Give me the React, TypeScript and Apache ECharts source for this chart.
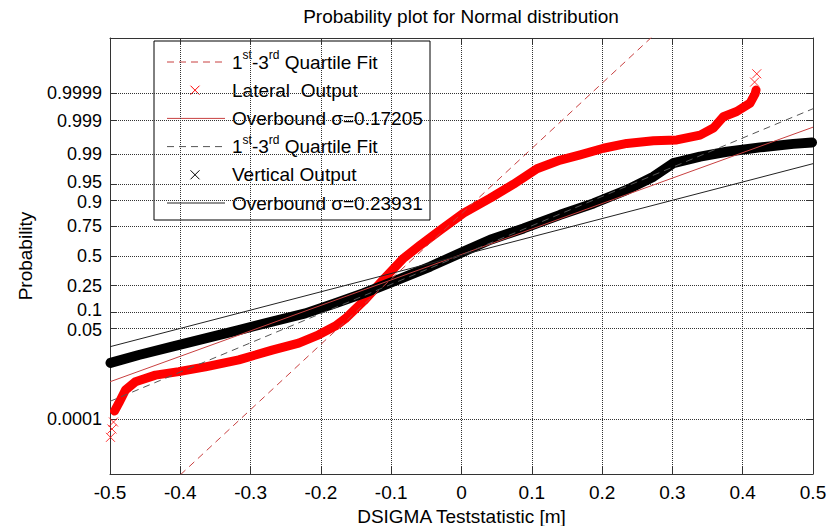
import React, { useEffect, useRef } from 'react';
import * as echarts from 'echarts';

// ---- Data (x in metres, y as standard-normal quantile of the plotting probability) ----
const probTickLabels = ['0.0001', '0.05', '0.1', '0.25', '0.5', '0.75', '0.9', '0.95', '0.99', '0.999', '0.9999'];
const xTickStep = 0.1;
const xMin = -0.5;
const xMax = 0.5;
const yLimZ = 4.977;

// Lateral output (red): dense band of markers
const lateralBand: [number, number][] = [
  [-0.4936, -3.54], [-0.4875, -3.36], [-0.478, -3.06], [-0.4638, -2.87], [-0.4353, -2.72],
  [-0.4022, -2.64], [-0.3643, -2.53], [-0.3169, -2.37], [-0.2694, -2.15], [-0.2316, -1.99],
  [-0.2032, -1.8], [-0.1795, -1.6], [-0.1653, -1.43], [-0.1392, -1.03], [-0.1108, -0.53],
  [-0.0824, -0.05], [-0.0586, 0.25], [-0.0302, 0.59], [0.0029, 0.98], [0.0409, 1.32],
  [0.074, 1.64], [0.1073, 1.99], [0.1404, 2.19], [0.1688, 2.31], [0.2019, 2.46],
  [0.2352, 2.57], [0.273, 2.63], [0.3063, 2.65], [0.3394, 2.76], [0.3583, 2.92],
  [0.3725, 3.18], [0.3915, 3.3], [0.4105, 3.49], [0.4176, 3.7], [0.419, 3.79],
];
// Lateral output (red): isolated tail markers
const lateralTails: [number, number][] = [
  [-0.4993, -4.14], [-0.4972, -3.95], [-0.495, -3.79], [0.4169, 3.97], [0.42, 4.16],
];
// Vertical output (black): dense band of markers
const verticalBand: [number, number][] = [
  [-0.4993, -2.44], [-0.4591, -2.26], [-0.4116, -2.07], [-0.3643, -1.88], [-0.3169, -1.69],
  [-0.2694, -1.5], [-0.2221, -1.31], [-0.1795, -1.08], [-0.1392, -0.85], [-0.0917, -0.55],
  [-0.0444, -0.24], [0.0029, 0.1], [0.0409, 0.37], [0.0882, 0.63], [0.1404, 0.94],
  [0.1877, 1.2], [0.2352, 1.51], [0.273, 1.81], [0.3014, 2.12], [0.3394, 2.27],
  [0.3773, 2.38], [0.4247, 2.48], [0.472, 2.56], [0.4986, 2.59],
];
// Fitted normal lines: [mean, sigma]
const lateralQuartileFit = [-0.0647, 0.0671];
const lateralOverbound = [-0.006, 0.17205];
const verticalQuartileFit = [-0.0033, 0.1497];
const verticalOverbound = [-0.0044, 0.23931];

const legendLabels = [
  '1{sup|st}-3{sup|rd} Quartile Fit',
  'Lateral  Output',
  'Overbound σ=0.17205',
  '1{sup|st}-3{sup|rd} Quartile Fit',
  'Vertical Output',
  'Overbound σ=0.23931',
];

// ---- helpers ----
function normInv(p: number): number {
  const a = [-3.969683028665376e1, 2.209460984245205e2, -2.759285104469687e2, 1.38357751867269e2, -3.066479806614716e1, 2.506628277459239];
  const b = [-5.447609879822406e1, 1.615858368580409e2, -1.556989798598866e2, 6.680131188771972e1, -1.328068155288572e1];
  const c = [-7.784894002430293e-3, -3.223964580411365e-1, -2.400758277161838, -2.549732539343734, 4.374664141464968, 2.938163982698783];
  const d = [7.784695709041462e-3, 3.224671290700398e-1, 2.445134137142996, 3.754408661907416];
  const plow = 0.02425;
  const phigh = 1 - plow;
  if (p < plow) {
    const q = Math.sqrt(-2 * Math.log(p));
    return (((((c[0] * q + c[1]) * q + c[2]) * q + c[3]) * q + c[4]) * q + c[5]) / ((((d[0] * q + d[1]) * q + d[2]) * q + d[3]) * q + 1);
  }
  if (p > phigh) {
    const q = Math.sqrt(-2 * Math.log(1 - p));
    return -(((((c[0] * q + c[1]) * q + c[2]) * q + c[3]) * q + c[4]) * q + c[5]) / ((((d[0] * q + d[1]) * q + d[2]) * q + d[3]) * q + 1);
  }
  const q = p - 0.5;
  const r = q * q;
  return (((((a[0] * r + a[1]) * r + a[2]) * r + a[3]) * r + a[4]) * r + a[5]) * q / (((((b[0] * r + b[1]) * r + b[2]) * r + b[3]) * r + b[4]) * r + 1);
}

const yTickZ = probTickLabels.map((s) => normInv(parseFloat(s)));
const fitLine = (fit: number[]) => [xMin, xMax].map((x) => [x, (x - fit[0]) / fit[1]]);

const FONT = "'Liberation Sans', Arial, Helvetica, sans-serif";
const RED = '#ff0000';
const RED_FIT = '#c84040';
const BLACK_FIT = '#222222';
const BLACK_DASH = '#555555';
const AXIS = '#333333';
const X_SYMBOL = 'path://M0,0L10,10M10,0L0,10';
// labels of closely spaced ticks get nudged apart a little
const nudgeUp = ['0.95', '0.1'];
const nudgeDown = ['0.9', '0.05'];

function buildLegend() {
  const left = 154, top = 41, w = 276, h = 179;
  const rowY = [62, 90.2, 118.4, 146.6, 174.8, 203];
  const kinds = [
    { k: 'dash', c: RED_FIT }, { k: 'x', c: RED }, { k: 'line', c: RED_FIT },
    { k: 'dash', c: BLACK_DASH }, { k: 'x', c: '#000' }, { k: 'line', c: BLACK_FIT },
  ];
  const children: any[] = [
    { type: 'rect', shape: { x: left, y: top, width: w, height: h }, style: { fill: '#fff', stroke: '#000', lineWidth: 1 } },
  ];
  kinds.forEach((it, i) => {
    const y = rowY[i];
    if (it.k === 'x') {
      children.push({ type: 'line', shape: { x1: 190.5, y1: y - 4.5, x2: 199.5, y2: y + 4.5 }, style: { stroke: it.c, lineWidth: 1 } });
      children.push({ type: 'line', shape: { x1: 199.5, y1: y - 4.5, x2: 190.5, y2: y + 4.5 }, style: { stroke: it.c, lineWidth: 1 } });
    } else {
      children.push({
        type: 'line', shape: { x1: 167, y1: y, x2: 225, y2: y },
        style: { stroke: it.c, lineWidth: 1, lineDash: it.k === 'dash' ? [7, 5] : null },
      });
    }
    children.push({
      type: 'text', x: 232, y,
      style: {
        text: legendLabels[i], fill: '#000', fontFamily: FONT, fontSize: 19, verticalAlign: 'middle', lineHeight: 26,
        rich: { sup: { fontFamily: FONT, fontSize: 12, verticalAlign: 'top', lineHeight: 14, fill: '#000' } },
      },
    });
  });
  return [{ type: 'group', z: 100, children }];
}

export default function App() {
  const ref = useRef<HTMLDivElement>(null);
  useEffect(() => {
    if (!ref.current) return;
    const chart = echarts.init(ref.current, undefined, { renderer: 'svg' });
    const gridLine = { show: true, lineStyle: { color: '#333', type: 'dotted', width: 1 } };
    const tickStyle = { inside: true, length: 7, lineStyle: { color: AXIS } };
    const labelStyle = { fontFamily: FONT, fontSize: 19, color: '#000' };
    const yLabelFont = { fontFamily: FONT, fontSize: 18, color: '#000' };
    const axisLine = { show: true, onZero: false, lineStyle: { color: AXIS } };
    const option: any = {
      animation: false,
      backgroundColor: '#ffffff',
      title: {
        text: 'Probability plot for Normal distribution',
        left: 456, top: 2, textAlign: 'center',
        textStyle: { fontFamily: FONT, fontSize: 19, fontWeight: 'normal', color: '#000' },
      },
      grid: { left: 110, top: 38, right: 24, bottom: 52, outerBoundsMode: 'none' },
      xAxis: [
        {
          type: 'value', min: xMin, max: xMax, interval: xTickStep, position: 'bottom',
          name: 'DSIGMA Teststatistic [m]', nameLocation: 'middle', nameGap: 32,
          nameTextStyle: labelStyle,
          axisLine,
          axisTick: tickStyle,
          axisLabel: { ...labelStyle, margin: 9, formatter: (v: number) => String(Number(v.toFixed(1))) },
          splitLine: gridLine,
        },
        {
          type: 'value', min: xMin, max: xMax, interval: xTickStep, position: 'top',
          axisLine, axisTick: tickStyle,
          axisLabel: { show: false }, splitLine: { show: false },
        },
      ],
      yAxis: [
        {
          type: 'value', min: -yLimZ, max: yLimZ, position: 'left',
          name: 'Probability', nameLocation: 'middle', nameGap: 75, nameRotate: 90,
          nameTextStyle: labelStyle,
          axisLine,
          axisTick: { ...tickStyle, customValues: yTickZ },
          axisLabel: {
            ...yLabelFont, margin: 8, customValues: yTickZ,
            rich: {
              up: { ...yLabelFont, padding: [0, 0, 4, 0] },
              dn: { ...yLabelFont, padding: [4, 0, 0, 0] },
            },
            formatter: (v: number) => {
              let best = 0;
              yTickZ.forEach((z, i) => { if (Math.abs(z - v) < Math.abs(yTickZ[best] - v)) best = i; });
              const s = probTickLabels[best];
              if (nudgeUp.includes(s)) return `{up|${s}}`;
              if (nudgeDown.includes(s)) return `{dn|${s}}`;
              return s;
            },
          },
          splitLine: gridLine,
        },
        {
          type: 'value', min: -yLimZ, max: yLimZ, position: 'right',
          axisLine,
          axisTick: { ...tickStyle, customValues: yTickZ },
          axisLabel: { show: false, customValues: yTickZ }, splitLine: { show: false },
        },
      ],
      series: [
        {
          name: 'Lateral  Output', type: 'line', data: lateralBand, symbol: 'none', z: 3, silent: true,
          lineStyle: { color: RED, width: 9, join: 'round', cap: 'round' },
        },
        {
          name: 'Lateral  Output tails', type: 'scatter', data: lateralTails, symbol: X_SYMBOL, symbolSize: 9, z: 3, silent: true,
          itemStyle: { color: 'rgba(0,0,0,0)', borderColor: RED, borderWidth: 1 },
        },
        {
          name: 'Vertical Output', type: 'line', data: verticalBand, symbol: 'none', z: 3, silent: true,
          lineStyle: { color: '#000', width: 10, join: 'round', cap: 'round' },
        },
        {
          name: 'Lateral 1st-3rd Quartile Fit', type: 'line', data: fitLine(lateralQuartileFit), symbol: 'none', z: 5, silent: true,
          lineStyle: { color: RED_FIT, width: 1, type: [7, 5] },
        },
        {
          name: 'Lateral Overbound', type: 'line', data: fitLine(lateralOverbound), symbol: 'none', z: 5, silent: true,
          lineStyle: { color: RED_FIT, width: 1 },
        },
        {
          name: 'Vertical 1st-3rd Quartile Fit', type: 'line', data: fitLine(verticalQuartileFit), symbol: 'none', z: 5, silent: true,
          lineStyle: { color: BLACK_DASH, width: 1, type: [7, 5] },
        },
        {
          name: 'Vertical Overbound', type: 'line', data: fitLine(verticalOverbound), symbol: 'none', z: 5, silent: true,
          lineStyle: { color: BLACK_FIT, width: 1 },
        },
      ],
      graphic: buildLegend(),
    };
    chart.setOption(option);
    return () => chart.dispose();
  }, []);
  return <div ref={ref} style={{ position: 'fixed', left: 0, top: 0, width: 837, height: 526, background: '#fff' }} />;
}
